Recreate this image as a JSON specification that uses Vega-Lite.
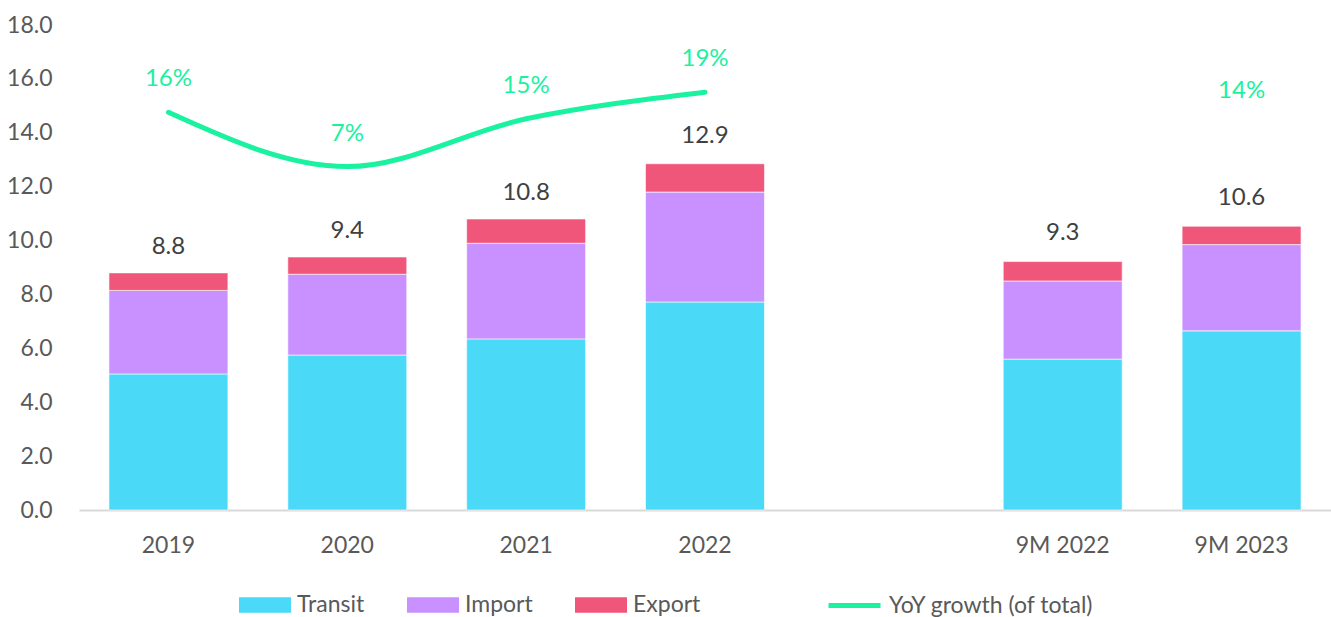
{
  "$schema": "https://vega.github.io/schema/vega-lite/v6.json",
  "width": 1252,
  "height": 485,
  "autosize": "none",
  "padding": {"left": 79, "top": 25, "right": 0, "bottom": 107},
  "background": "white",
  "config": {
    "view": {"stroke": null},
    "font": "Lato",
    "axis": {"labelFont": "Lato", "labelColor": "#595959", "labelFontSize": 23, "title": null, "grid": false, "ticks": false},
    "legend": {"labelFont": "Lato", "labelColor": "#595959", "labelFontSize": 23, "labelLimit": 400}
  },
  "datasets": {
    "bars": [
      {"period": "2019", "type": "Transit", "order": 1, "value": 5.05},
      {"period": "2019", "type": "Import", "order": 2, "value": 3.1},
      {"period": "2019", "type": "Export", "order": 3, "value": 0.65},
      {"period": "2020", "type": "Transit", "order": 1, "value": 5.75},
      {"period": "2020", "type": "Import", "order": 2, "value": 3.0},
      {"period": "2020", "type": "Export", "order": 3, "value": 0.64},
      {"period": "2021", "type": "Transit", "order": 1, "value": 6.35},
      {"period": "2021", "type": "Import", "order": 2, "value": 3.55},
      {"period": "2021", "type": "Export", "order": 3, "value": 0.9},
      {"period": "2022", "type": "Transit", "order": 1, "value": 7.72},
      {"period": "2022", "type": "Import", "order": 2, "value": 4.08},
      {"period": "2022", "type": "Export", "order": 3, "value": 1.05},
      {"period": "9M 2022", "type": "Transit", "order": 1, "value": 5.6},
      {"period": "9M 2022", "type": "Import", "order": 2, "value": 2.9},
      {"period": "9M 2022", "type": "Export", "order": 3, "value": 0.72},
      {"period": "9M 2023", "type": "Transit", "order": 1, "value": 6.65},
      {"period": "9M 2023", "type": "Import", "order": 2, "value": 3.2},
      {"period": "9M 2023", "type": "Export", "order": 3, "value": 0.68}
    ],
    "totals": [
      {"period": "2019", "total": 8.8},
      {"period": "2020", "total": 9.4},
      {"period": "2021", "total": 10.8},
      {"period": "2022", "total": 12.9},
      {"period": "9M 2022", "total": 9.3},
      {"period": "9M 2023", "total": 10.6}
    ],
    "growth": [
      {"period": "2019", "growth": 0.16, "line": true},
      {"period": "2020", "growth": 0.068, "line": true},
      {"period": "2021", "growth": 0.149, "line": true},
      {"period": "2022", "growth": 0.194, "line": true},
      {"period": "9M 2023", "growth": 0.14, "line": false}
    ]
  },
  "encoding": {
    "x": {
      "field": "period",
      "type": "nominal",
      "scale": {"domain": ["2019", "2020", "2021", "2022", " ", "9M 2022", "9M 2023"], "paddingInner": 0.335, "paddingOuter": 0.1675},
      "axis": {"labelAngle": 0, "domainColor": "#D9D9D9", "domainWidth": 2, "labelPadding": 24}
    }
  },
  "layer": [
    {
      "layer": [
        {
          "data": {"name": "bars"},
          "mark": {"type": "bar", "stroke": "white", "strokeWidth": 0.6},
          "encoding": {
            "y": {"field": "value", "type": "quantitative", "stack": "zero",
              "scale": {"domain": [0, 18]},
              "axis": {"values": [0, 2, 4, 6, 8, 10, 12, 14, 16, 18], "format": ".1f", "domain": false, "labelPadding": 27}},
            "color": {"field": "type", "type": "nominal",
              "scale": {"domain": ["Transit", "Import", "Export"], "range": ["#4ADAF8", "#C891FF", "#F05679"]},
              "legend": {"title": null, "orient": "none", "direction": "horizontal", "legendX": 160, "legendY": 554,
                "symbolType": "M-1,-0.3H1V0.3H-1Z", "symbolSize": 2704, "symbolStrokeWidth": 0, "labelOffset": 6, "columnPadding": 42}},
            "order": {"field": "order", "type": "quantitative"}
          }
        },
        {
          "data": {"name": "totals"},
          "mark": {"type": "text", "baseline": "alphabetic", "dy": -19, "fontSize": 24, "color": "#404040", "font": "Lato"},
          "encoding": {
            "y": {"field": "total", "type": "quantitative"},
            "text": {"field": "total", "type": "quantitative", "format": ".1f"}
          }
        }
      ]
    },
    {
      "data": {"name": "growth"},
      "layer": [
        {
          "transform": [{"filter": "datum.line"}],
          "mark": {"type": "line", "interpolate": "monotone", "strokeWidth": 5, "strokeCap": "round"},
          "encoding": {
            "y": {"field": "growth", "type": "quantitative", "scale": {"domain": [-0.514, 0.308], "nice": false, "zero": false}, "axis": null},
            "color": {"datum": "YoY growth (of total)", "type": "nominal",
              "scale": {"range": ["#1AF2A0"]},
              "legend": {"title": null, "orient": "none", "legendX": 747, "legendY": 552,
                "symbolType": "stroke", "symbolSize": 2704, "symbolStrokeWidth": 5, "labelOffset": 6}}
          }
        },
        {
          "mark": {"type": "text", "baseline": "alphabetic", "dy": -26, "fontSize": 24, "color": "#1AF2A0", "font": "Lato"},
          "encoding": {
            "y": {"field": "growth", "type": "quantitative"},
            "text": {"field": "growth", "type": "quantitative", "format": ".0%"}
          }
        }
      ]
    }
  ],
  "resolve": {"scale": {"y": "independent", "color": "independent"}}
}
